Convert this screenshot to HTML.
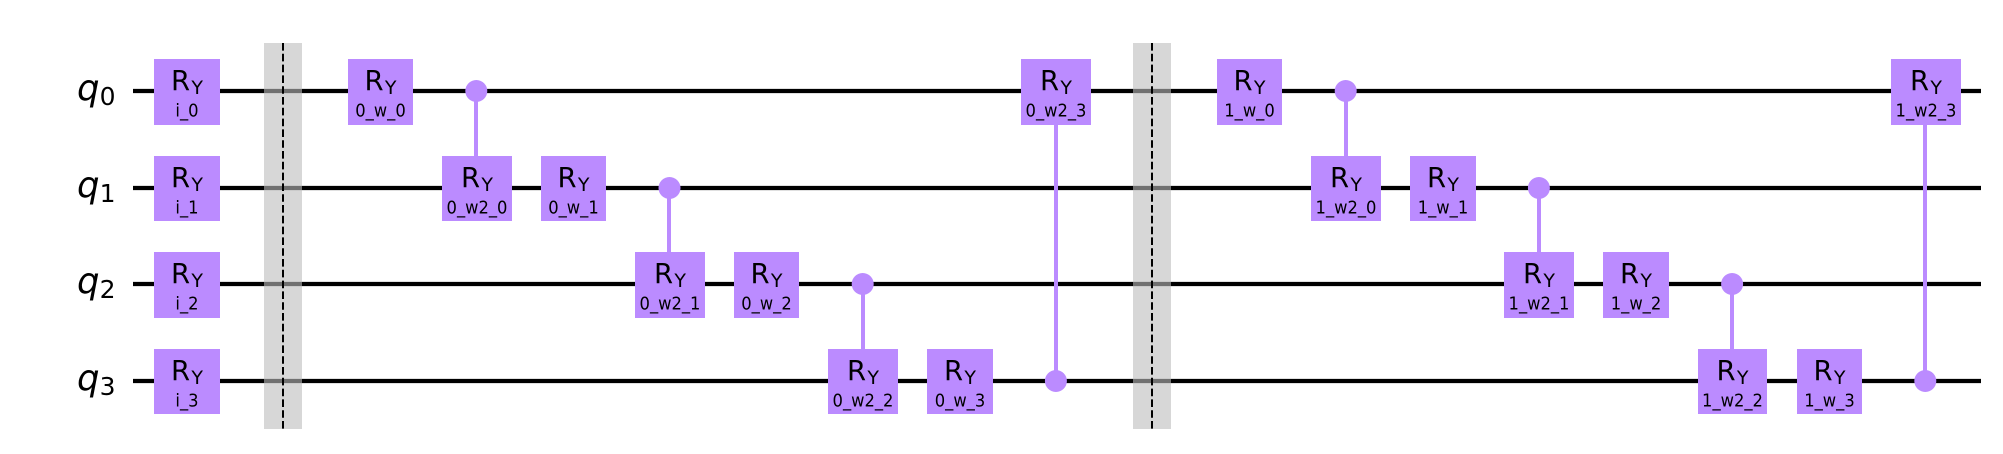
<!DOCTYPE html>
<html lang="en">
<head>
<meta charset="utf-8">
<title>Quantum circuit</title>
<style>
html,body{margin:0;padding:0;background:#fff;width:2003px;height:454px;overflow:hidden}
svg{display:block}
text{font-family:"DejaVu Sans","Liberation Sans",sans-serif;fill:#000}
</style>
</head>
<body>
<svg id="circuit" xmlns="http://www.w3.org/2000/svg" width="2003" height="454" viewBox="0 0 2003 454"></svg>
<script>
const qubitNames = ['0', '1', '2', '3'];
const barrierColumns = [1, 10];
const gateLabels = ['i_0','i_1','i_2','i_3','0_w_0','0_w2_0','0_w_1','0_w2_1','0_w_2','0_w2_2','0_w_3','0_w2_3','1_w_0','1_w2_0','1_w_1','1_w2_1','1_w_2','1_w2_2','1_w_3','1_w2_3'];
const gateColumns = [0,0,0,0,2,3,4,5,6,7,8,9,11,12,13,14,15,16,17,18];
const gateQubits = [0,1,2,3,0,1,1,2,2,3,3,0,0,1,1,2,2,3,3,0];
const gateControls = [null,null,null,null,null,0,null,1,null,2,null,3,null,0,null,1,null,2,null,3];

const NS = 'http://www.w3.org/2000/svg';
const GATE = '#bb8bff';
const svg = document.getElementById('circuit');

function colX(c) { return 186.4 + 96.6 * c; }
function qubitRaw(q) { return 90.9 + 96.65 * q; }
function qubitY(q) { return Math.round(qubitRaw(q)); }

function make(tag, attrs, parent) {
  const el = document.createElementNS(NS, tag);
  for (const k in attrs) el.setAttribute(k, attrs[k]);
  (parent || svg).appendChild(el);
  return el;
}

// wires and qubit labels
qubitNames.forEach(function (name, q) {
  const y = qubitY(q);
  const wire = make('line', {x1: 133, x2: 1981, y1: y, y2: y, stroke: '#000', 'stroke-width': 4.3});
  
  
  const label = make('text', {x: 115.5, y: y + 9, 'text-anchor': 'end', 'font-size': 35.5});
  
  
  const letter = make('tspan', {'font-style': 'italic'}, label);
  letter.textContent = 'q';
  const idx = make('tspan', {'font-size': 25, dy: 5}, label);
  idx.textContent = name;
});

// barriers
barrierColumns.forEach(function (c, i) {
  const x = Math.round(colX(c) - 0.4);
  const top = 43, bottom = 429;
  const band = make('rect', {x: x - 19, y: top, width: 38, height: bottom - top, fill: '#bdbdbd', 'fill-opacity': 0.6, 'shape-rendering': 'crispEdges'});
  
  
  const dash = make('line', {x1: x, x2: x, y1: top, y2: bottom, stroke: '#000', 'stroke-width': 2, 'stroke-dasharray': '7.6 3.2'});
  
  
});

// controlled connections
gateLabels.forEach(function (label, i) {
  const ctrl = gateControls[i];
  if (ctrl === null) return;
  const x = Math.round(colX(gateColumns[i]));
  const y1 = qubitY(ctrl);
  const y2 = qubitY(gateQubits[i]);
  const link = make('line', {x1: x, x2: x, y1: y1, y2: y2, stroke: GATE, 'stroke-width': 4});
  
  
  const dot = make('circle', {cx: colX(gateColumns[i]) + 0.1, cy: y1, r: 11, fill: GATE});
  
  
});

// gates
gateLabels.forEach(function (label, i) {
  const x = colX(gateColumns[i]);
  const q = gateQubits[i];
  const wy = qubitY(q);
  const wide = gateControls[i] !== null;
  const left = Math.round(x - (wide ? 34.4 : 32));
  const right = Math.round(x + (wide ? 35.4 : 33.4));
  const top = wy - 32;
  const bottom = Math.round(qubitRaw(q) + 33.62);
  const box = make('rect', {x: left, y: top, width: right - left, height: bottom - top, fill: GATE, 'shape-rendering': 'crispEdges'});
  
  
  const cx = (left + right) / 2;
  const name = make('text', {x: cx, y: wy - 1.2, 'text-anchor': 'middle', 'font-size': 27.5});
  
  
  const r = make('tspan', {}, name);
  r.textContent = 'R';
  const s = make('tspan', {'font-size': 19, dy: 4, dx: 1.2}, name);
  s.textContent = 'Y';
  const param = make('text', {'text-anchor': 'middle', 'font-size': 17.4, transform: 'translate(' + cx + ' ' + (wy + 25.3) + ') scale(0.94 1)'});
  
  
  param.textContent = label;
});
</script>
</body>
</html>
